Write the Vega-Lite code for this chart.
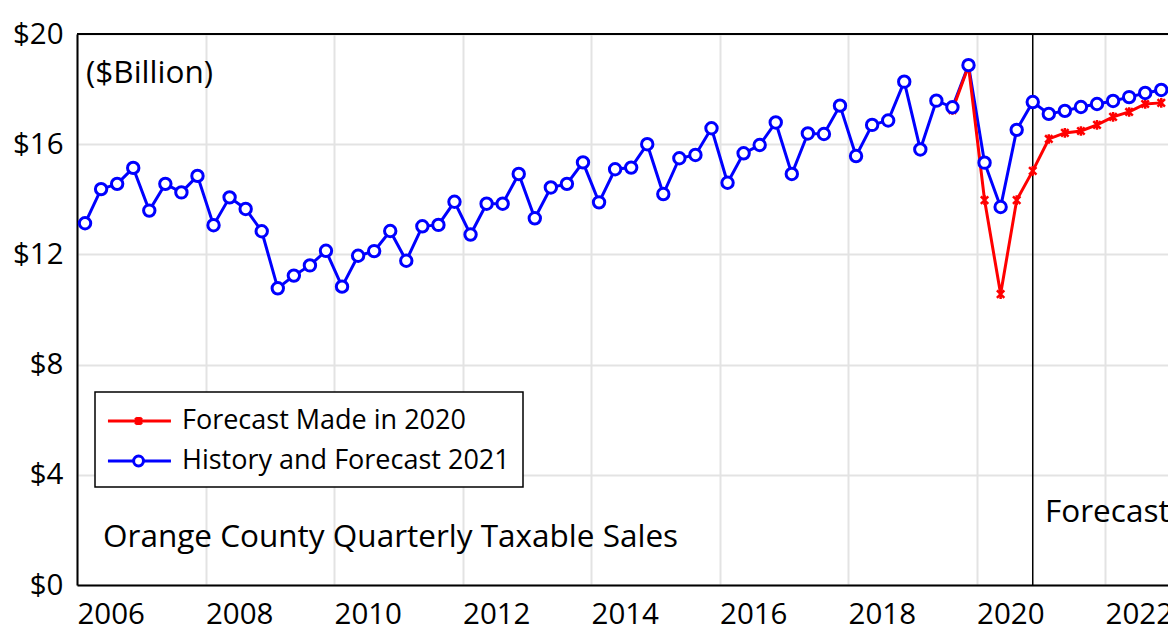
{
  "$schema": "https://vega.github.io/schema/vega-lite/v6.json",
  "width": 1091,
  "height": 551,
  "autosize": {"type": "none"},
  "padding": {"left": 77, "top": 34, "right": 0, "bottom": 46},
  "background": "white",
  "config": {
    "view": {"stroke": null},
    "font": "Open Sans",
    "axis": {"gridColor": "#e3e3e3", "gridWidth": 2, "domainColor": "black", "domainWidth": 2, "ticks": false, "labelColor": "black", "labelFont": "Open Sans", "labelFontSize": 29.5, "title": null}
  },
  "datasets": {
    "sales": [
      {"t": 2006.125, "series": "History and Forecast 2021", "v": 13.13},
      {"t": 2006.375, "series": "History and Forecast 2021", "v": 14.37},
      {"t": 2006.625, "series": "History and Forecast 2021", "v": 14.56},
      {"t": 2006.875, "series": "History and Forecast 2021", "v": 15.14},
      {"t": 2007.125, "series": "History and Forecast 2021", "v": 13.59},
      {"t": 2007.375, "series": "History and Forecast 2021", "v": 14.56},
      {"t": 2007.625, "series": "History and Forecast 2021", "v": 14.25},
      {"t": 2007.875, "series": "History and Forecast 2021", "v": 14.85},
      {"t": 2008.125, "series": "History and Forecast 2021", "v": 13.06},
      {"t": 2008.375, "series": "History and Forecast 2021", "v": 14.07},
      {"t": 2008.625, "series": "History and Forecast 2021", "v": 13.65},
      {"t": 2008.875, "series": "History and Forecast 2021", "v": 12.84},
      {"t": 2009.125, "series": "History and Forecast 2021", "v": 10.77},
      {"t": 2009.375, "series": "History and Forecast 2021", "v": 11.23},
      {"t": 2009.625, "series": "History and Forecast 2021", "v": 11.6},
      {"t": 2009.875, "series": "History and Forecast 2021", "v": 12.13},
      {"t": 2010.125, "series": "History and Forecast 2021", "v": 10.83},
      {"t": 2010.375, "series": "History and Forecast 2021", "v": 11.95},
      {"t": 2010.625, "series": "History and Forecast 2021", "v": 12.12},
      {"t": 2010.875, "series": "History and Forecast 2021", "v": 12.85},
      {"t": 2011.125, "series": "History and Forecast 2021", "v": 11.77},
      {"t": 2011.375, "series": "History and Forecast 2021", "v": 13.02},
      {"t": 2011.625, "series": "History and Forecast 2021", "v": 13.07},
      {"t": 2011.875, "series": "History and Forecast 2021", "v": 13.91},
      {"t": 2012.125, "series": "History and Forecast 2021", "v": 12.72},
      {"t": 2012.375, "series": "History and Forecast 2021", "v": 13.84},
      {"t": 2012.625, "series": "History and Forecast 2021", "v": 13.84},
      {"t": 2012.875, "series": "History and Forecast 2021", "v": 14.92},
      {"t": 2013.125, "series": "History and Forecast 2021", "v": 13.31},
      {"t": 2013.375, "series": "History and Forecast 2021", "v": 14.43},
      {"t": 2013.625, "series": "History and Forecast 2021", "v": 14.56},
      {"t": 2013.875, "series": "History and Forecast 2021", "v": 15.34},
      {"t": 2014.125, "series": "History and Forecast 2021", "v": 13.89},
      {"t": 2014.375, "series": "History and Forecast 2021", "v": 15.09},
      {"t": 2014.625, "series": "History and Forecast 2021", "v": 15.15},
      {"t": 2014.875, "series": "History and Forecast 2021", "v": 16.0},
      {"t": 2015.125, "series": "History and Forecast 2021", "v": 14.19},
      {"t": 2015.375, "series": "History and Forecast 2021", "v": 15.49},
      {"t": 2015.625, "series": "History and Forecast 2021", "v": 15.61},
      {"t": 2015.875, "series": "History and Forecast 2021", "v": 16.58},
      {"t": 2016.125, "series": "History and Forecast 2021", "v": 14.6},
      {"t": 2016.375, "series": "History and Forecast 2021", "v": 15.67},
      {"t": 2016.625, "series": "History and Forecast 2021", "v": 15.97},
      {"t": 2016.875, "series": "History and Forecast 2021", "v": 16.79},
      {"t": 2017.125, "series": "History and Forecast 2021", "v": 14.92},
      {"t": 2017.375, "series": "History and Forecast 2021", "v": 16.39},
      {"t": 2017.625, "series": "History and Forecast 2021", "v": 16.37},
      {"t": 2017.875, "series": "History and Forecast 2021", "v": 17.4},
      {"t": 2018.125, "series": "History and Forecast 2021", "v": 15.57},
      {"t": 2018.375, "series": "History and Forecast 2021", "v": 16.7},
      {"t": 2018.625, "series": "History and Forecast 2021", "v": 16.86},
      {"t": 2018.875, "series": "History and Forecast 2021", "v": 18.27},
      {"t": 2019.125, "series": "History and Forecast 2021", "v": 15.81},
      {"t": 2019.375, "series": "History and Forecast 2021", "v": 17.58},
      {"t": 2019.625, "series": "History and Forecast 2021", "v": 17.34},
      {"t": 2019.875, "series": "History and Forecast 2021", "v": 18.87},
      {"t": 2020.125, "series": "History and Forecast 2021", "v": 15.33},
      {"t": 2020.375, "series": "History and Forecast 2021", "v": 13.72},
      {"t": 2020.625, "series": "History and Forecast 2021", "v": 16.52},
      {"t": 2020.875, "series": "History and Forecast 2021", "v": 17.53},
      {"t": 2021.125, "series": "History and Forecast 2021", "v": 17.1},
      {"t": 2021.375, "series": "History and Forecast 2021", "v": 17.21},
      {"t": 2021.625, "series": "History and Forecast 2021", "v": 17.35},
      {"t": 2021.875, "series": "History and Forecast 2021", "v": 17.46},
      {"t": 2022.125, "series": "History and Forecast 2021", "v": 17.57},
      {"t": 2022.375, "series": "History and Forecast 2021", "v": 17.71},
      {"t": 2022.625, "series": "History and Forecast 2021", "v": 17.86},
      {"t": 2022.875, "series": "History and Forecast 2021", "v": 17.97},
      {"t": 2019.625, "series": "Forecast Made in 2020", "v": 17.24},
      {"t": 2019.875, "series": "Forecast Made in 2020", "v": 18.84},
      {"t": 2020.125, "series": "Forecast Made in 2020", "v": 13.97},
      {"t": 2020.375, "series": "Forecast Made in 2020", "v": 10.56},
      {"t": 2020.625, "series": "Forecast Made in 2020", "v": 13.97},
      {"t": 2020.875, "series": "Forecast Made in 2020", "v": 15.03},
      {"t": 2021.125, "series": "Forecast Made in 2020", "v": 16.19},
      {"t": 2021.375, "series": "Forecast Made in 2020", "v": 16.41},
      {"t": 2021.625, "series": "Forecast Made in 2020", "v": 16.48},
      {"t": 2021.875, "series": "Forecast Made in 2020", "v": 16.7},
      {"t": 2022.125, "series": "Forecast Made in 2020", "v": 16.99},
      {"t": 2022.375, "series": "Forecast Made in 2020", "v": 17.17},
      {"t": 2022.625, "series": "Forecast Made in 2020", "v": 17.46},
      {"t": 2022.875, "series": "Forecast Made in 2020", "v": 17.5}
    ]
  },
  "data": {"name": "sales"},
  "encoding": {
    "x": {
      "field": "t", "type": "quantitative",
      "scale": {"domain": [2006, 2022.98], "nice": false, "zero": false},
      "axis": {"values": [2006, 2008, 2010, 2012, 2014, 2016, 2018, 2020, 2022], "format": "d", "labelAlign": "left", "labelBaseline": "top", "labelPadding": 15, "labelFlush": false, "grid": true}
    },
    "y": {
      "field": "v", "type": "quantitative",
      "scale": {"domain": [0, 20], "nice": false},
      "axis": {"values": [0, 4, 8, 12, 16, 20], "labelExpr": "'$' + datum.value", "labelPadding": 14, "grid": true}
    }
  },
  "layer": [
    {
      "transform": [{"filter": "datum.t === 2006.125 && datum.series === 'History and Forecast 2021'"}],
      "mark": {"type": "rule", "color": "black", "strokeWidth": 2},
      "encoding": {"x": null, "y": {"datum": 20}}
    },
    {
      "transform": [{"filter": "datum.t === 2006.125 && datum.series === 'History and Forecast 2021'"}],
      "mark": {"type": "rule", "color": "black", "strokeWidth": 1.5},
      "encoding": {"x": {"datum": 2020.875}, "y": null}
    },
    {
      "mark": {"type": "line", "strokeWidth": 3},
      "encoding": {
        "color": {
          "field": "series", "type": "nominal",
          "scale": {"domain": ["Forecast Made in 2020", "History and Forecast 2021"], "range": ["#ff0000", "#0000ff"]},
          "legend": {
            "orient": "none", "legendX": 18, "legendY": 358,
            "title": null,
            "fillColor": "white", "strokeColor": "black", "cornerRadius": 0,
            "padding": 12.5,
            "labelFont": "Open Sans", "labelFontSize": 27, "labelColor": "black", "labelLimit": 0,
            "labelOffset": 41.5,
            "symbolSize": 900, "symbolStrokeWidth": 3,
            "rowPadding": 10,
            "encode": {
              "legend": {"update": {"strokeWidth": {"value": 1.5}}},
              "symbols": {
                "update": {
                  "shape": {"signal": "datum.value === 'History and Forecast 2021' ? 'M-1.07,0L0.64,0M1.3,0L3.13,0M1.3,0A0.33,0.33,0,1,1,0.64,0A0.33,0.33,0,1,1,1.3,0Z' : 'M-1.07,0L3.13,0M0.75,-0.22L1.19,0.22M0.75,0.22L1.19,-0.22M0.97,-0.27L0.97,0.27'"},
                  "fill": {"signal": "datum.value === 'History and Forecast 2021' ? 'white' : 'transparent'"},
                  "stroke": {"signal": "datum.value === 'History and Forecast 2021' ? '#0000ff' : '#ff0000'"},
                  "strokeWidth": {"value": 3},
                  "opacity": {"value": 1}
                }
              }
            }
          }
        }
      }
    },
    {
      "transform": [{"filter": "datum.series === 'Forecast Made in 2020'"}],
      "mark": {"type": "point", "shape": "M-1,-1L1,1M-1,1L1,-1M0,-1.3L0,1.3", "size": 55, "color": "#ff0000", "strokeWidth": 2.5, "filled": false, "opacity": 1}
    },
    {
      "transform": [{"filter": "datum.series === 'History and Forecast 2021'"}],
      "mark": {"type": "point", "shape": "circle", "size": 130, "stroke": "#0000ff", "fill": "white", "filled": true, "strokeWidth": 3, "opacity": 1}
    },
    {
      "transform": [{"filter": "datum.t === 2006.125 && datum.series === 'History and Forecast 2021'"}],
      "mark": {"type": "text", "align": "left", "baseline": "alphabetic", "font": "Open Sans", "fontSize": 31.5, "color": "black"},
      "encoding": {"x": {"datum": 2006.14}, "y": {"datum": 18.22}, "text": {"value": "($Billion)"}}
    },
    {
      "transform": [{"filter": "datum.t === 2006.125 && datum.series === 'History and Forecast 2021'"}],
      "mark": {"type": "text", "align": "left", "baseline": "alphabetic", "font": "Open Sans", "fontSize": 31.5, "color": "black"},
      "encoding": {"x": {"datum": 2006.405}, "y": {"datum": 1.38}, "text": {"value": "Orange County Quarterly Taxable Sales"}}
    },
    {
      "transform": [{"filter": "datum.t === 2006.125 && datum.series === 'History and Forecast 2021'"}],
      "mark": {"type": "text", "align": "left", "baseline": "alphabetic", "font": "Open Sans", "fontSize": 31.5, "color": "black"},
      "encoding": {"x": {"datum": 2021.066}, "y": {"datum": 2.29}, "text": {"value": "Forecast"}}
    }
  ]
}
